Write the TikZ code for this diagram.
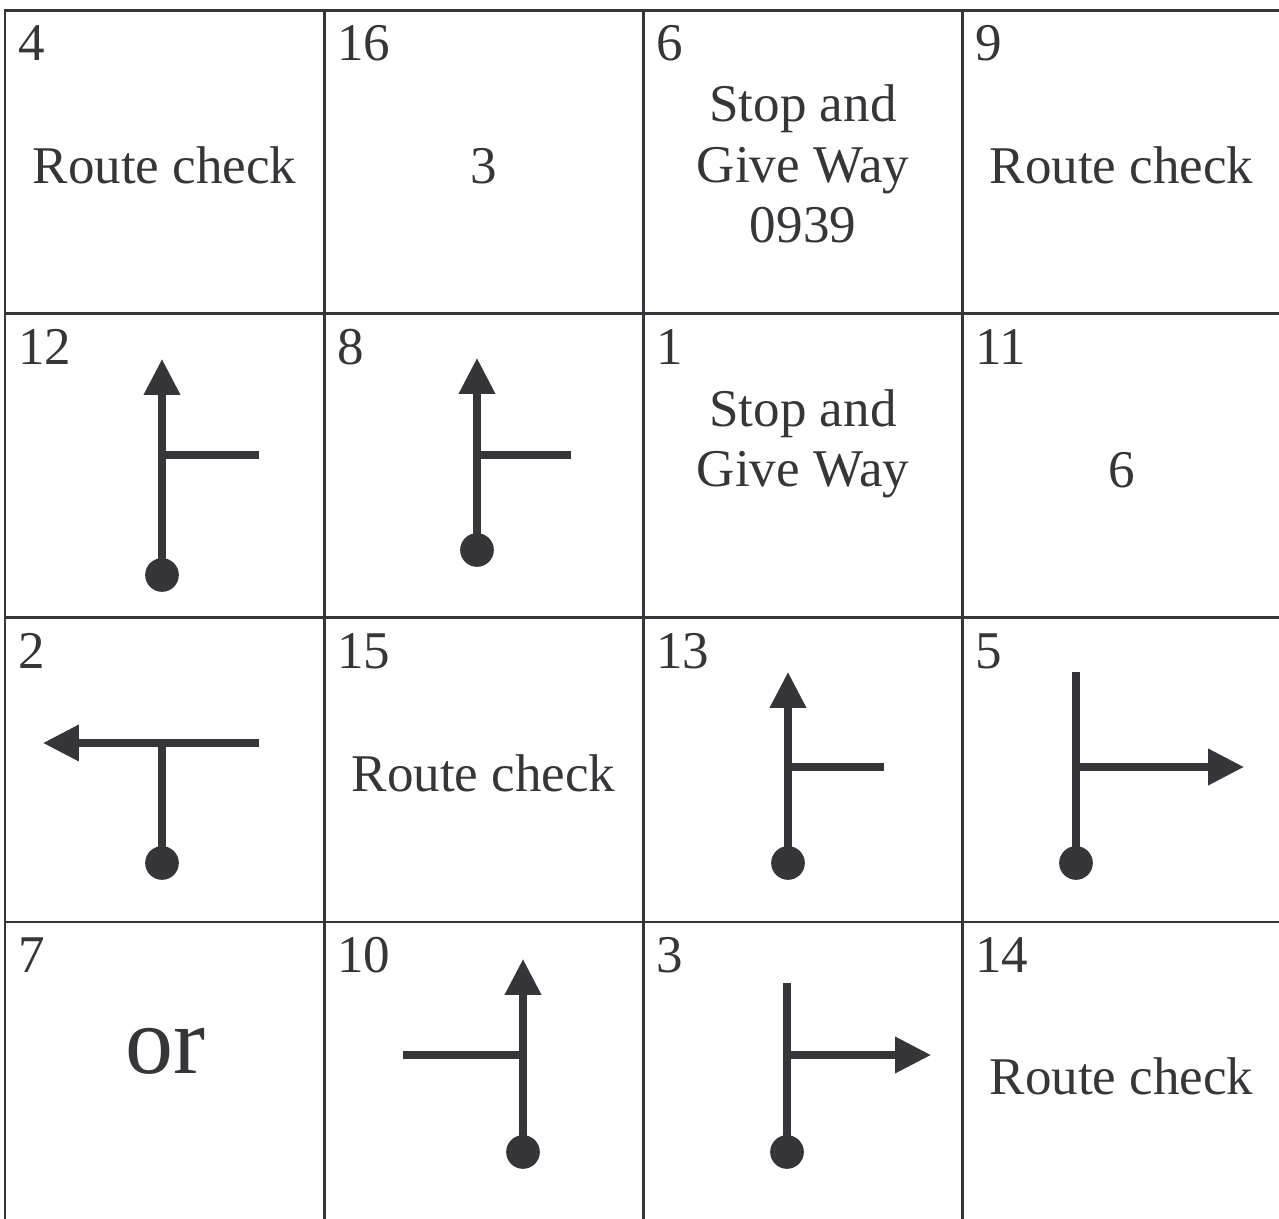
\documentclass[tikz,border=0pt]{standalone}
\usepackage{fontspec}
\setmainfont{Liberation Serif}
\usepackage{tikz}
\usetikzlibrary{arrows.meta}
\definecolor{ink}{RGB}{54,54,58}

\begin{document}
\begin{tikzpicture}[x=0.02cm,y=-0.02cm,
  grid/.style={ink, line width=0.06cm, line cap=rect},
  road/.style={ink, line width=0.145cm},
  tip/.style={-{Triangle[length=0.72cm,width=0.70cm]}},
  dot/.style={circle, fill=ink, inner sep=0pt, minimum size=0.674cm},
  num/.style={anchor=base west, inner sep=0pt, text=ink, font=\fontsize{30.2}{34.7}\selectfont},
  word/.style={anchor=base, inner sep=0pt, text=ink, align=center, font=\fontsize{30.2}{34.7}\selectfont}]

\useasboundingbox (0,0) rectangle (1279,1219);

% table
\foreach \x in {5,324,643,962}{
	\draw[grid] (\x,11) -- (\x,1225);
}
\foreach \y in {11,314,618,922}{
	\draw[grid] (5,\y) -- (1285,\y);
}

% cell numbers
\foreach \n/\c/\r in {4/0/0,16/1/0,6/2/0,9/3/0,12/0/1,8/1/1,1/2/1,11/3/1,2/0/2,15/1/2,13/2/2,5/3/2,7/0/3,10/1/3,3/2/3,14/3/3}{
	\node[num] (n\n) at (18+319*\c, 61+303.67*\r) {\n};
}

% first row (base = last line)
\node[word] (c4) at (164.5,184) {Route check};
\node[word] (c16) at (483.5,184) {3};
\node[word] (c6) at (803,243) {Stop and\\Give Way\\0939};
\node[word] (c9) at (1121.5,184) {Route check};

% second row
\node[dot] (d12) at (162,575) {};
\coordinate (t12) at (162,359);
\coordinate (b12) at (259,455);
\draw[road,tip] (d12.center) -- (t12);
\draw[road] (d12.center |- b12) -- (b12);

\node[dot] (d8) at (477,550) {};
\coordinate (t8) at (477,358);
\coordinate (b8) at (571,455);
\draw[road,tip] (d8.center) -- (t8);
\draw[road] (d8.center |- b8) -- (b8);

\node[word] (c1) at (803,487) {Stop and\\Give Way};
\node[word] (c11) at (1122,488) {6};

% third row
\node[dot] (d2) at (162,863) {};
\coordinate (t2) at (43,743);
\coordinate (b2) at (259,743);
\draw[road,tip] (b2) -- (t2);
\draw[road] (d2.center) -- (d2.center |- t2);

\node[word] (c15) at (483.5,792) {Route check};

\node[dot] (d13) at (788,863) {};
\coordinate (t13) at (788,672);
\coordinate (b13) at (884,767);
\draw[road,tip] (d13.center) -- (t13);
\draw[road] (d13.center |- b13) -- (b13);

\node[dot] (d5) at (1076,863) {};
\coordinate (e5) at (1076,672);
\coordinate (t5) at (1244,767);
\draw[road] (d5.center) -- (e5);
\draw[road,tip] (d5.center |- t5) -- (t5);

% fourth row
\node[word, font=\fontsize{54.6}{60}\selectfont] (c7) at (165,1073) {or};

\node[dot] (d10) at (523,1152) {};
\coordinate (t10) at (523,959);
\coordinate (b10) at (403,1055);
\draw[road,tip] (d10.center) -- (t10);
\draw[road] (b10) -- (d10.center |- b10);

\node[dot] (d3) at (787,1152) {};
\coordinate (e3) at (787,983);
\coordinate (t3) at (931,1055);
\draw[road] (d3.center) -- (e3);
\draw[road,tip] (d3.center |- t3) -- (t3);

\node[word] (c14) at (1121.5,1094) {Route check};

\end{tikzpicture}
\end{document}
